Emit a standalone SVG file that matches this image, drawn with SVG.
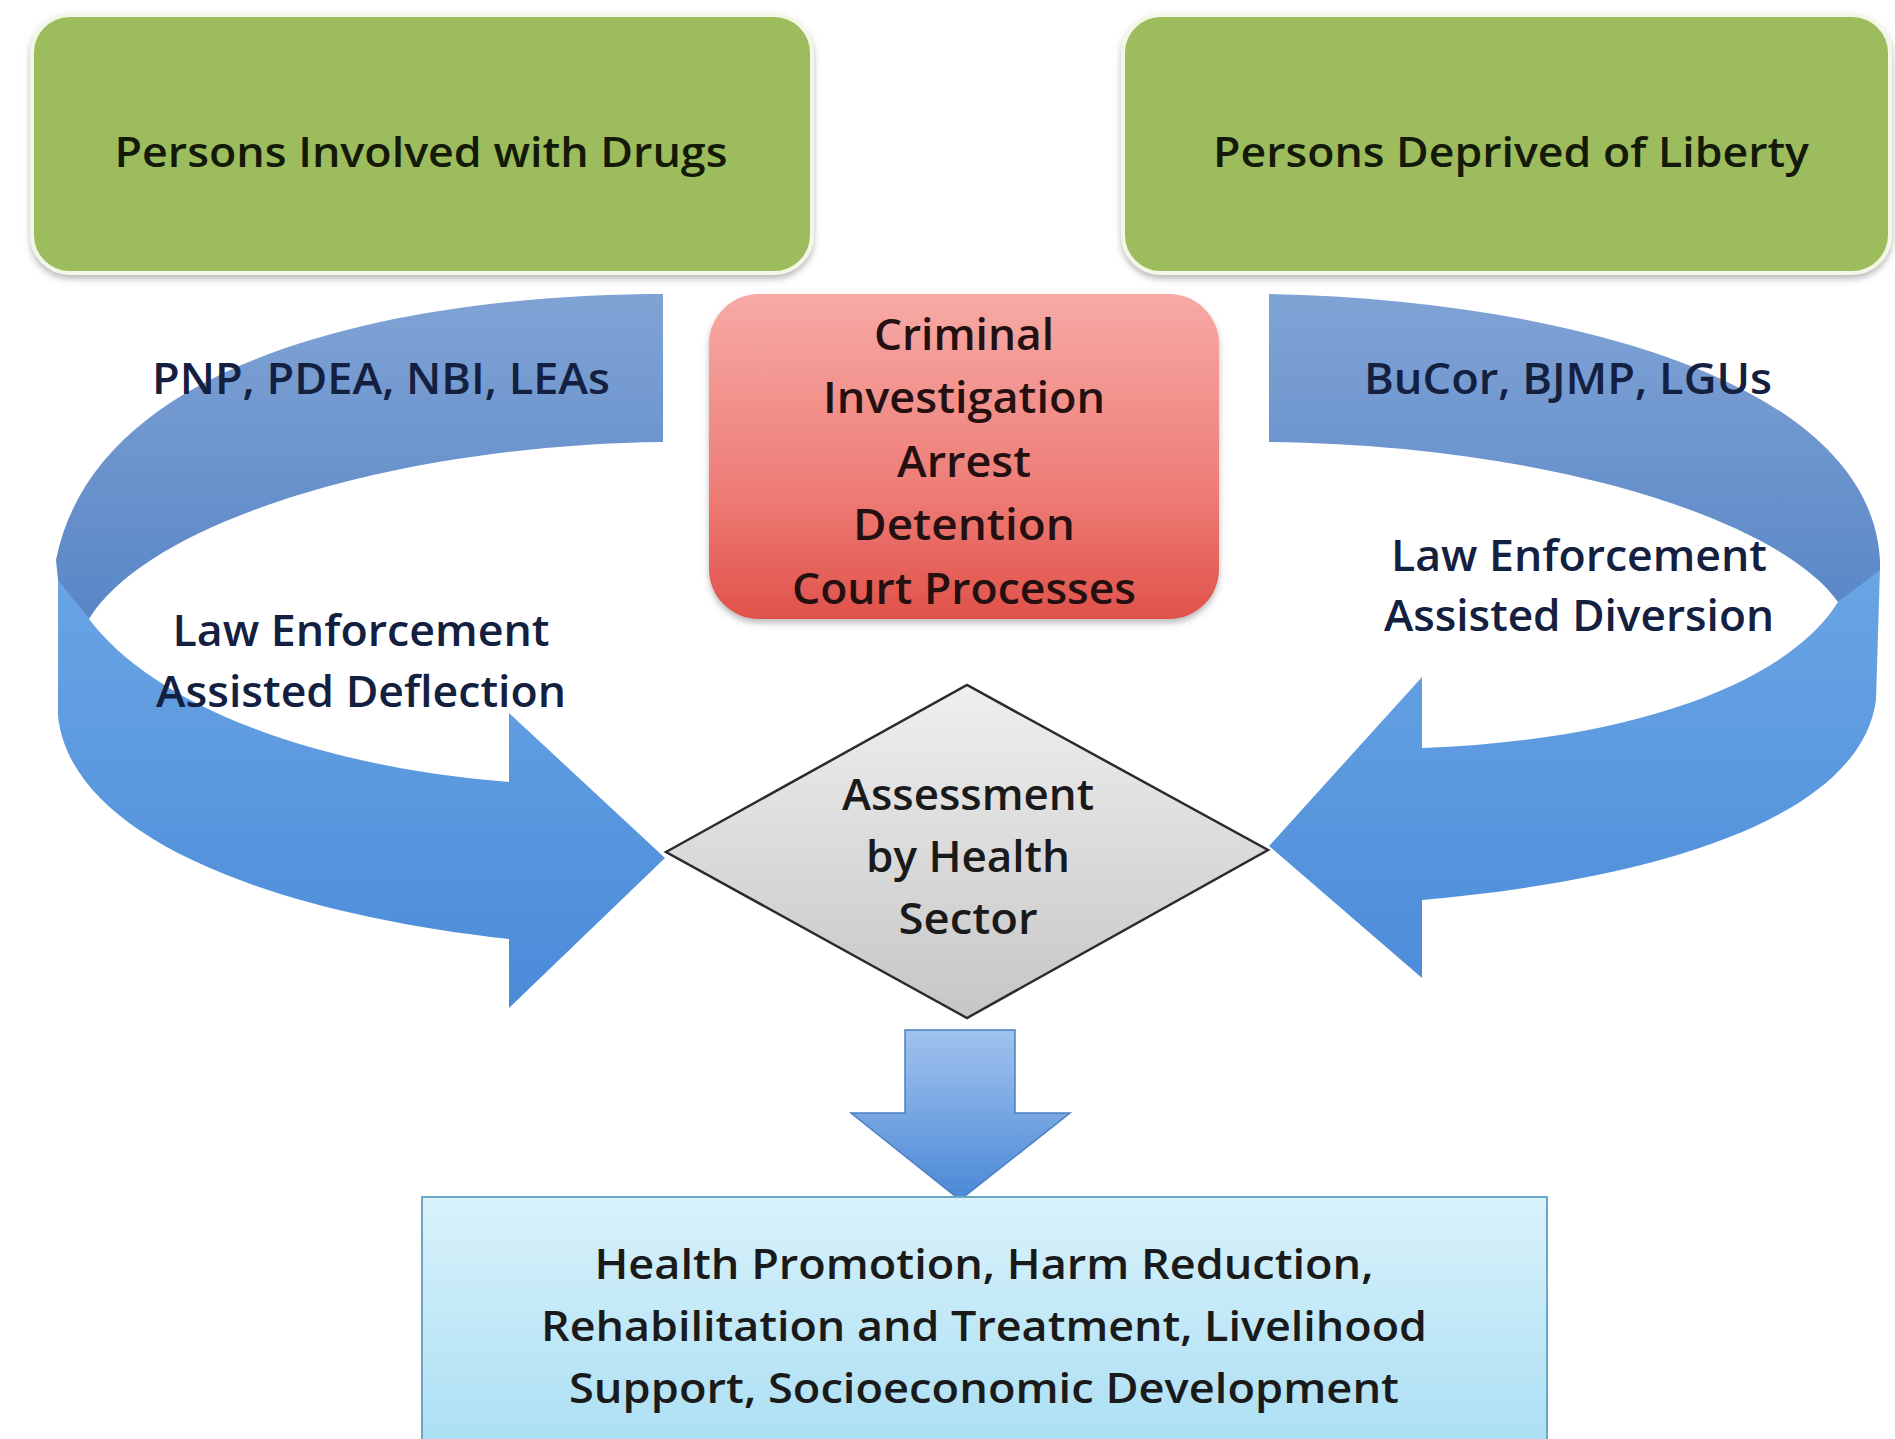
<svg xmlns="http://www.w3.org/2000/svg" width="1895" height="1439" viewBox="0 0 1895 1439">
<defs>
<style>
.t{font-family:"Open Sans","Liberation Sans",sans-serif;fill:#1a1a1a;text-anchor:middle;font-weight:600}
.g{font-size:42px;fill:#141a0a}
.r{font-size:44px;fill:#241010}
.a{font-size:44px;fill:#142040}
.b{font-size:42px}
</style>
<filter id="sh" x="-5%" y="-5%" width="110%" height="115%">
<feDropShadow dx="0" dy="4" stdDeviation="3" flood-color="#777" flood-opacity="0.5"/>
</filter>
<linearGradient id="red" x1="0" y1="0" x2="0" y2="1">
<stop offset="0" stop-color="#f7aaa6"/><stop offset="0.6" stop-color="#ee7d77"/><stop offset="1" stop-color="#e0524a"/>
</linearGradient>
<linearGradient id="gray" x1="0" y1="0" x2="0" y2="1">
<stop offset="0" stop-color="#efefef"/><stop offset="1" stop-color="#c6c6c6"/>
</linearGradient>
<linearGradient id="down" x1="0" y1="0" x2="0" y2="1">
<stop offset="0" stop-color="#a1c3ee"/><stop offset="1" stop-color="#4a88d6"/>
</linearGradient>
<linearGradient id="cyan" x1="0" y1="0" x2="0" y2="1">
<stop offset="0" stop-color="#d9f2fb"/><stop offset="1" stop-color="#a9def3"/>
</linearGradient>
<linearGradient id="up" gradientUnits="userSpaceOnUse" x1="0" y1="294" x2="0" y2="620">
<stop offset="0" stop-color="#80a3d5"/><stop offset="1" stop-color="#5886c6"/>
</linearGradient>
<linearGradient id="lo" gradientUnits="userSpaceOnUse" x1="0" y1="570" x2="0" y2="1010">
<stop offset="0" stop-color="#6aa5e4"/><stop offset="1" stop-color="#4a8bd9"/>
</linearGradient>
</defs>
<rect width="1895" height="1439" fill="#fff"/>

<g id="connectors">
<g id="arrow-left">
<path fill="url(#lo)" d="M58 578 L58 716 C70 830 250 910 509 939 L509 1008 L665 858 L509 713 L509 782 C300 765 150 700 89 619 Z"/>
<path fill="url(#up)" d="M663 294 C450 294 100 340 56 560 L58 580 L89 619 C150 520 400 445 663 442 Z"/>
</g>
<g id="arrow-right">
<path fill="url(#lo)" d="M1880 568 L1876 700 C1860 820 1650 880 1422 900 L1422 978 L1269 846 L1422 677 L1422 748 C1640 740 1790 680 1838 602 Z"/>
<path fill="url(#up)" d="M1269 294 C1560 300 1870 380 1880 560 L1880 570 L1838 602 C1780 520 1550 445 1269 442 Z"/>
</g>
<path id="arrow-down" d="M905 1030 L1015 1030 L1015 1113 L1070 1113 L960 1200 L851 1113 L905 1113 Z" fill="url(#down)" stroke="#4c7fc2" stroke-width="1.5"/>
</g>

<g id="label-pnp"><text class="t a" x="381" y="394" textLength="458" lengthAdjust="spacingAndGlyphs">PNP, PDEA, NBI, LEAs</text></g>
<g id="label-bucor"><text class="t a" x="1568" y="394" textLength="408" lengthAdjust="spacingAndGlyphs">BuCor, BJMP, LGUs</text></g>
<g id="label-deflection">
<text class="t a" x="361" y="646" textLength="377" lengthAdjust="spacingAndGlyphs">Law Enforcement</text>
<text class="t a" x="361" y="707" textLength="410" lengthAdjust="spacingAndGlyphs">Assisted Deflection</text>
</g>
<g id="label-diversion">
<text class="t a" x="1579" y="571" textLength="376" lengthAdjust="spacingAndGlyphs">Law Enforcement</text>
<text class="t a" x="1579" y="631" textLength="390" lengthAdjust="spacingAndGlyphs">Assisted Diversion</text>
</g>

<g id="node-pwud">
<rect x="32" y="15" width="780" height="258" rx="38" fill="#9dbc5d" stroke="#f3f7e6" stroke-width="4" filter="url(#sh)"/>
<text class="t g" x="421" y="167" textLength="613" lengthAdjust="spacingAndGlyphs">Persons Involved with Drugs</text>
</g>
<g id="node-pdl">
<rect x="1123" y="15" width="767" height="258" rx="38" fill="#9dbc5d" stroke="#f3f7e6" stroke-width="4" filter="url(#sh)"/>
<text class="t g" x="1511" y="167" textLength="596" lengthAdjust="spacingAndGlyphs">Persons Deprived of Liberty</text>
</g>

<g id="node-criminal">
<rect x="709" y="294" width="510" height="325" rx="50" fill="url(#red)" filter="url(#sh)"/>
<text class="t r" x="964" y="350" textLength="180" lengthAdjust="spacingAndGlyphs">Criminal</text>
<text class="t r" x="964" y="413" textLength="282" lengthAdjust="spacingAndGlyphs">Investigation</text>
<text class="t r" x="964" y="477" textLength="134" lengthAdjust="spacingAndGlyphs">Arrest</text>
<text class="t r" x="964" y="540" textLength="222" lengthAdjust="spacingAndGlyphs">Detention</text>
<text class="t r" x="964" y="604" textLength="344" lengthAdjust="spacingAndGlyphs">Court Processes</text>
</g>

<g id="node-assessment">
<path d="M666 852 L967 685 L1268 850 L967 1018 Z" fill="url(#gray)" stroke="#2b2b2b" stroke-width="2.5"/>
<text class="t r" x="968" y="810" style="fill:#1a1a1a" textLength="252" lengthAdjust="spacingAndGlyphs">Assessment</text>
<text class="t r" x="968" y="872" style="fill:#1a1a1a" textLength="204" lengthAdjust="spacingAndGlyphs">by Health</text>
<text class="t r" x="968" y="934" style="fill:#1a1a1a" textLength="139" lengthAdjust="spacingAndGlyphs">Sector</text>
</g>

<g id="node-services">
<rect x="422" y="1197" width="1125" height="260" fill="url(#cyan)" stroke="#6aa6c6" stroke-width="2"/>
<text class="t b" x="984" y="1279" textLength="779" lengthAdjust="spacingAndGlyphs">Health Promotion, Harm Reduction,</text>
<text class="t b" x="984" y="1341" textLength="886" lengthAdjust="spacingAndGlyphs">Rehabilitation and Treatment, Livelihood</text>
<text class="t b" x="984" y="1403" textLength="830" lengthAdjust="spacingAndGlyphs">Support, Socioeconomic Development</text>
</g>
</svg>
